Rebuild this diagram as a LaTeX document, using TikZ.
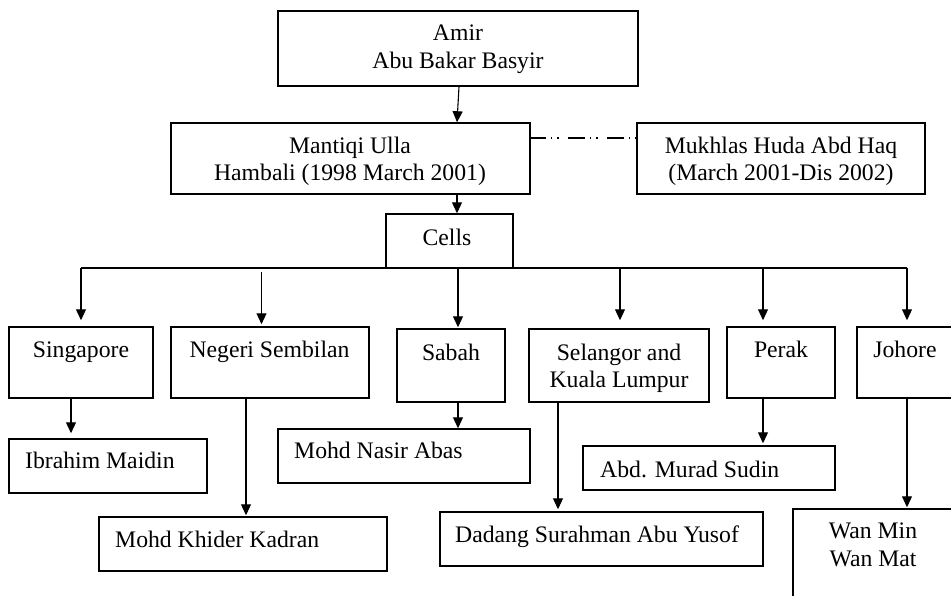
\documentclass[tikz,border=0pt]{standalone}
\usepackage{fontspec}
\setmainfont{Liberation Serif}
\usetikzlibrary{arrows.meta}
\tikzset{
  box/.style={draw, line width=1.5pt, rectangle, inner sep=0pt},
  txt/.style={inner sep=0pt, anchor=base, font=\fontsize{23.7}{28}\selectfont},
  txtl/.style={txt, anchor=base west},
  conn/.style={line width=1.1pt},
  arr/.style={conn, -{Triangle[length=11pt,width=10pt]}},
  dashdotdot/.style={line width=1.1pt, dash pattern=on 17pt off 5pt on 1.5pt off 5pt on 1.5pt off 9pt, dash phase=2pt}
}
\newcommand{\bx}[5]{\node[box, minimum width=#4-#2, minimum height=#5-#3] (#1) at ({(#2+#4)/2},{(#3+#5)/2}) {};}
\begin{document}
\begin{tikzpicture}[x=1pt,y=-1pt]
\clip (0,0) rectangle (951,595);
\fill[white] (0,0) rectangle (951,595);
% boxes
\bx{amir}{278}{11}{638}{86}
\bx{mantiqi}{171}{123}{530}{194}
\bx{mukhlas}{637}{123}{925}{194}
\bx{cells}{386}{214}{513}{268}
\bx{sing}{9}{327}{153}{398}
\bx{neg}{171}{327}{369}{398}
\bx{sabah}{397}{329}{505}{402}
\bx{sel}{529}{329}{709}{402}
\bx{perak}{727}{327}{835}{398}
\bx{johore}{857}{327}{990}{398}
\bx{ibrahim}{9}{439}{207}{493}
\bx{khider}{99}{517}{387}{571}
\bx{nasir}{278}{429}{530}{483}
\bx{dadang}{440}{512}{763}{566}
\bx{murad}{583}{446}{835}{490}
\bx{wanmin}{793}{509}{990}{640}
% texts
\node[txt] (t-amir1) at (458,40) {Amir};
\node[txt] (t-amir2) at (458,68) {Abu Bakar Basyir};
\node[txt] (t-man1) at (350,153) {Mantiqi Ulla};
\node[txt] (t-man2) at (350,180) {Hambali (1998 March 2001)};
\node[txt] (t-muk1) at (781,153) {Mukhlas Huda Abd Haq};
\node[txt] (t-muk2) at (781,180) {(March 2001-Dis 2002)};
\node[txt] (t-cells) at (447,245) {Cells};
\node[txt] (t-sing) at (81,357) {Singapore};
\node[txt] (t-neg) at (269.5,357) {Negeri Sembilan};
\node[txt] (t-sabah) at (451,360) {Sabah};
\node[txt] (t-sel1) at (619,360) {Selangor and};
\node[txt] (t-sel2) at (619,387) {Kuala Lumpur};
\node[txt] (t-perak) at (781,357) {Perak};
\node[txt] (t-johore) at (905,357) {Johore};
\node[txtl] (t-ibr) at (25,468) {Ibrahim Maidin};
\node[txtl] (t-khi) at (115,547) {Mohd Khider Kadran};
\node[txtl] (t-nas) at (294,458) {Mohd Nasir Abas};
\node[txtl] (t-dad) at (455,542) {Dadang Surahman Abu Yusof};
\node[txtl] (t-mur) at (600,477) {Abd. Murad Sudin};
\node[txt] (t-wan1) at (873,538) {Wan Min};
\node[txt] (t-wan2) at (873,566) {Wan Mat};
% connectors
\draw[arr] ([xshift=1pt]amir.south) -- ([xshift=106.5pt]mantiqi.north);
\draw[arr] ([xshift=106.5pt]mantiqi.south) -- ([xshift=7.5pt]cells.north);
\draw[dashdotdot] ([yshift=20.5pt]mantiqi.east) -- ([yshift=20.5pt]mukhlas.west);
\coordinate (busL) at (81,268);
\coordinate (busR) at (907,268);
\draw[conn] (busL) -- (busR);
\draw[arr, shorten >=6pt] (busL) -- (sing.north);
\draw[arr, shorten >=2pt] ([xshift=-8.5pt,yshift=54pt]neg.north) -- ([xshift=-8.5pt]neg.north);
\draw[arr, shorten >=1pt] ([xshift=7pt]sabah.north |- busL) -- ([xshift=7pt]sabah.north);
\draw[arr, shorten >=8pt] ([xshift=1pt]sel.north |- busL) -- ([xshift=1pt]sel.north);
\draw[arr, shorten >=6pt] ([xshift=-18pt]perak.north |- busL) -- ([xshift=-18pt]perak.north);
\draw[arr, shorten >=6pt] (busR) -- (busR |- johore.north);
\draw[arr, shorten >=5pt] ([xshift=-10pt]sing.south) -- ([xshift=-10pt]sing.south |- ibrahim.north);
\draw[arr, shorten >=1pt] ([xshift=-24pt]neg.south) -- ([xshift=-24pt]neg.south |- khider.north);
\draw[arr] ([xshift=7pt]sabah.south) -- ([xshift=7pt]sabah.south |- nasir.north);
\draw[arr, shorten >=2pt] ([xshift=-61pt]sel.south) -- ([xshift=-61pt]sel.south |- dadang.north);
\draw[arr, shorten >=2pt] ([xshift=-18pt]perak.south) -- ([xshift=-18pt]perak.south |- murad.north);
\draw[arr, shorten >=1pt] (busR |- johore.south) -- (busR |- wanmin.north);
\end{tikzpicture}
\end{document}
